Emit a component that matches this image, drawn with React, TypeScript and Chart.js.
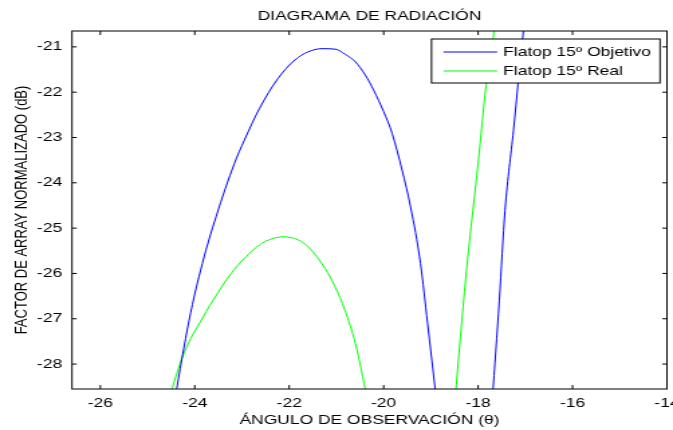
import React, { useEffect, useRef } from 'react';
import { Chart, registerables } from 'chart.js';

Chart.register(...registerables);

// ---------- data ----------
const chartTitle = 'DIAGRAMA DE RADIACIÓN';
const xAxisTitle = 'ÁNGULO DE OBSERVACIÓN (θ)';
const yAxisTitle = 'FACTOR DE ARRAY NORMALIZADO (dB)';

const xTicks = [-26, -24, -22, -20, -18, -16, -14];
const yTicks = [-28, -27, -26, -25, -24, -23, -22, -21];
const xRange = [-26.6, -14];
const yRange = [-28.55, -20.65];

const seriesLabels = ['Flatop 15º Objetivo', 'Flatop 15º Real'];

const objetivoX = [
  -24.42, -24.12, -23.84, -23.55, -23.16, -22.95, -22.63, -22.24, -21.88, -21.6,
  -21.31, -21.03, -20.82, -20.6, -20.39, -20.21, -20.0, -19.82, -19.61, -19.43,
  -19.22, -19.07, -18.89,
  -18.3,
  -17.7, -17.55, -17.43, -17.25, -17.04, -16.98,
];
const objetivoY = [
  -28.76, -27.03, -25.78, -24.75, -23.57, -23.06, -22.36, -21.7, -21.29, -21.11,
  -21.04, -21.05, -21.16, -21.33, -21.62, -21.96, -22.43, -22.91, -23.72, -24.53,
  -25.78, -27.1, -28.73,
  null,
  -28.8, -26.59, -24.61, -22.84, -20.65, -20.2,
];

const realX = [
  -24.55, -24.23, -23.84, -23.52, -23.23, -22.95, -22.63, -22.38, -22.13, -21.81,
  -21.6, -21.24, -21.03, -20.82, -20.6, -20.35,
  -19.4,
  -18.49, -18.26, -18.11, -18.0, -17.83, -17.66, -17.6,
];
const realY = [
  -28.77, -27.76, -26.99, -26.44, -26.0, -25.67, -25.37, -25.24, -25.19, -25.26,
  -25.41, -25.89, -26.29, -26.81, -27.54, -28.74,
  null,
  -28.8, -26.08, -24.61, -23.57, -21.85, -20.65, -20.2,
];

// ---------- layout constants (not data) ----------
const STRETCH = 1.34; // reference image is horizontally stretched
const OUT_W = 673;
const OUT_H = 430;
const IN_W = Math.round(OUT_W / STRETCH);
const FONT = '"Liberation Sans", Arial, Helvetica, sans-serif';
const COLORS = ['#0000ff', '#00ff00'];

const toPoints = (xs: number[], ys: (number | null)[]) =>
  xs.map((x, i) => ({ x, y: ys[i] }));

const framePlugin = {
  id: 'matlabFrame',
  afterDatasetsDraw(chart: any) {
    const { ctx, chartArea: a, scales } = chart;
    ctx.save();
    ctx.strokeStyle = '#000';
    ctx.lineWidth = 1;
    ctx.strokeRect(a.left, a.top, a.right - a.left, a.bottom - a.top);
    ctx.beginPath();
    xTicks.forEach((v) => {
      const px = scales.x.getPixelForValue(v);
      ctx.moveTo(px, a.bottom);
      ctx.lineTo(px, a.bottom - 4);
      ctx.moveTo(px, a.top);
      ctx.lineTo(px, a.top + 4);
    });
    yTicks.forEach((v) => {
      const py = scales.y.getPixelForValue(v);
      ctx.moveTo(a.left, py);
      ctx.lineTo(a.left + 3.5, py);
      ctx.moveTo(a.right, py);
      ctx.lineTo(a.right - 3.5, py);
    });
    ctx.stroke();

    // legend box
    ctx.font = `13px ${FONT}`;
    const textW = Math.max(...chart.data.datasets.map((d: any) => ctx.measureText(d.label).width));
    const padL = 9, lineLen = 40, gap = 4.5, padR = 6.7;
    const boxW = padL + lineLen + gap + textW + padR;
    const boxH = 44;
    const boxRight = a.right - 5.2;
    const boxLeft = boxRight - boxW;
    const boxTop = a.top + 8;
    ctx.fillStyle = '#fff';
    ctx.fillRect(boxLeft, boxTop, boxW, boxH);
    ctx.strokeStyle = '#000';
    ctx.lineWidth = 1;
    ctx.strokeRect(boxLeft, boxTop, boxW, boxH);
    chart.data.datasets.forEach((d: any, i: number) => {
      const y = boxTop + 13 + i * 19;
      ctx.beginPath();
      ctx.strokeStyle = d.borderColor;
      ctx.moveTo(boxLeft + padL, y);
      ctx.lineTo(boxLeft + padL + lineLen, y);
      ctx.stroke();
      ctx.fillStyle = '#000';
      ctx.textAlign = 'left';
      ctx.textBaseline = 'middle';
      ctx.fillText(d.label, boxLeft + padL + lineLen + gap, y);
    });
    ctx.restore();
  },
};

export default function App() {
  const canvasRef = useRef<HTMLCanvasElement | null>(null);

  useEffect(() => {
    const canvas = canvasRef.current;
    if (!canvas) return;
    const lineStyle = {
      borderWidth: 1,
      pointRadius: 0,
      cubicInterpolationMode: 'monotone',
      spanGaps: false,
      clip: 0,
    };
    const chart = new Chart(canvas, {
      type: 'line',
      data: {
        datasets: [
          {
            label: seriesLabels[0],
            data: toPoints(objetivoX, objetivoY),
            borderColor: COLORS[0],
            backgroundColor: COLORS[0],
            ...lineStyle,
          },
          {
            label: seriesLabels[1],
            data: toPoints(realX, realY),
            borderColor: COLORS[1],
            backgroundColor: COLORS[1],
            ...lineStyle,
          },
        ],
      },
      options: {
        animation: false,
        responsive: false,
        devicePixelRatio: 1,
        events: [],
        layout: { padding: { left: 0, right: 4.5, top: 0, bottom: 0 } },
        plugins: {
          legend: { display: false },
          tooltip: { enabled: false },
          title: {
            display: true,
            text: chartTitle,
            fullSize: false,
            color: '#000',
            font: { family: FONT, size: 13, weight: 'normal' },
            padding: { top: 9, bottom: 6.4 },
          },
        },
        scales: {
          x: {
            type: 'linear',
            min: xRange[0],
            max: xRange[1],
            grid: { display: false, drawTicks: false },
            border: { display: false },
            afterBuildTicks: (s: any) => {
              s.ticks = xTicks.map((value) => ({ value }));
            },
            afterFit: (s: any) => {
              s.height = 41;
              s.paddingLeft = 0;
              s.paddingRight = 0;
            },
            ticks: {
              color: '#000',
              font: { family: FONT, size: 13 },
              padding: 7,
              autoSkip: false,
              maxRotation: 0,
              callback: (v: any) => String(v),
            },
            title: {
              display: true,
              text: xAxisTitle,
              color: '#000',
              font: { family: FONT, size: 13 },
              padding: { top: 0, bottom: 2.2 },
            },
          },
          y: {
            type: 'linear',
            min: yRange[0],
            max: yRange[1],
            grid: { display: false, drawTicks: false },
            border: { display: false },
            afterBuildTicks: (s: any) => {
              s.ticks = yTicks.map((value) => ({ value }));
            },
            afterFit: (s: any) => {
              s.width = 53.7;
              s.paddingTop = 0;
              s.paddingBottom = 0;
            },
            ticks: {
              color: '#000',
              font: { family: FONT, size: 13 },
              padding: 7.3,
              autoSkip: false,
              callback: (v: any) => String(v),
            },
            title: {
              display: true,
              text: yAxisTitle,
              color: '#000',
              font: { family: FONT, size: 13 },
              padding: { top: 8.2, bottom: 0 },
            },
          },
        },
      },
      plugins: [framePlugin],
    } as any);
    return () => chart.destroy();
  }, []);

  return (
    <div
      style={{
        position: 'fixed',
        left: 0,
        top: 0,
        width: OUT_W,
        height: OUT_H,
        background: '#fff',
        overflow: 'hidden',
      }}
    >
      <canvas
        ref={canvasRef}
        width={IN_W}
        height={OUT_H}
        style={{ width: `${OUT_W}px`, height: `${OUT_H}px`, display: 'block' }}
      />
    </div>
  );
}
